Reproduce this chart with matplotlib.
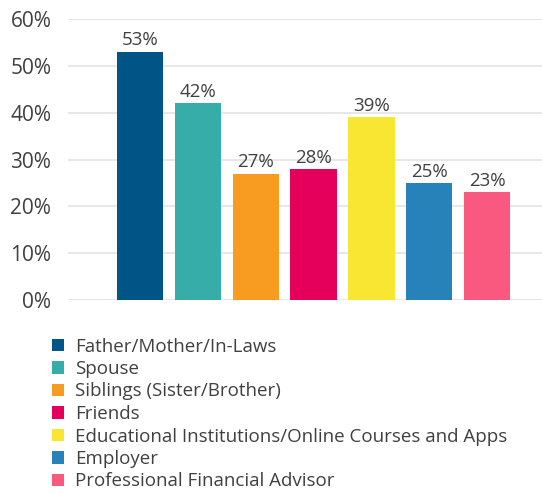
import matplotlib.pyplot as plt
from matplotlib.patches import Patch

plt.rcParams['font.family'] = ['Open Sans', 'DejaVu Sans']

categories = ['Father/Mother/In-Laws', 'Spouse', 'Siblings (Sister/Brother)', 'Friends',
              'Educational Institutions/Online Courses and Apps', 'Employer',
              'Professional Financial Advisor']
values = [53, 42, 27, 28, 39, 25, 23]
colors = ['#005587', '#36ada9', '#f79c20', '#e4005b', '#f9e633', '#2682b8', '#f9587f']
yticks = [0, 10, 20, 30, 40, 50, 60]

fig = plt.figure(figsize=(5.42, 4.93), dpi=100)
ax = fig.add_axes([68 / 542, 1 - 300 / 493, 474 / 542, 281 / 493])

x = list(range(len(values)))
ax.bar(x, values, width=0.8, color=colors, zorder=2)
for xi, v in zip(x, values):
    ax.text(xi, v + 0.5, f'{v}%', ha='center', va='bottom', fontsize=13.5, color='#404040')

ax.set_ylim(0, 60)
ax.set_xlim(-1.245, 6.95)
ax.set_yticks(yticks)
ax.set_yticklabels([f'{t}%' for t in yticks], fontsize=15, color='#404040')
ax.set_xticks([])
ax.grid(axis='y', color='#e3e3e3', linewidth=1.2, zorder=0)
ax.tick_params(axis='y', length=0, pad=12)
for s in ax.spines.values():
    s.set_visible(False)

handles = [Patch(facecolor=c, edgecolor='none') for c in colors]
fig.legend(handles, categories, loc='upper left', bbox_to_anchor=(44 / 542, 1 - 330 / 493),
           frameon=False, fontsize=13.5, labelcolor='#404040', handlelength=0.65,
           handleheight=0.65, handletextpad=0.6, labelspacing=0.24, borderaxespad=0)

fig.savefig('out.png', dpi=100)
